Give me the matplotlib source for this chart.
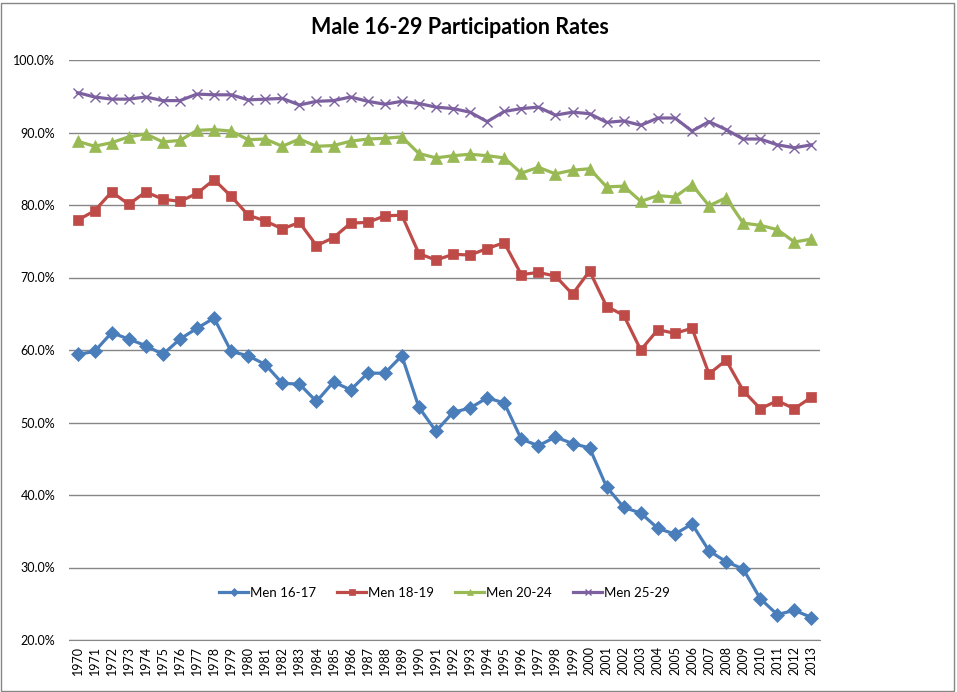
import matplotlib
matplotlib.use("Agg")
import matplotlib.pyplot as plt
from matplotlib.patches import Rectangle
from matplotlib.ticker import FuncFormatter

plt.rcParams['font.family'] = ['Lato', 'DejaVu Sans']

years = list(range(1970, 2014))

men_16_17 = [59.4, 59.8, 62.4, 61.5, 60.6, 59.4, 61.5, 63.0, 64.4, 59.8,
             59.2, 58.0, 55.4, 55.3, 52.9, 55.6, 54.5, 56.8, 56.8, 59.2,
             52.1, 48.8, 51.4, 52.0, 53.4, 52.7, 47.7, 46.8, 48.0, 47.1,
             46.5, 41.1, 38.3, 37.5, 35.4, 34.6, 36.0, 32.3, 30.8, 29.8,
             25.7, 23.5, 24.1, 23.1]
men_18_19 = [77.9, 79.2, 81.8, 80.1, 81.8, 80.8, 80.5, 81.6, 83.5, 81.2,
             78.6, 77.8, 76.7, 77.6, 74.4, 75.5, 77.5, 77.6, 78.5, 78.6,
             73.3, 72.4, 73.2, 73.1, 74.0, 74.8, 70.4, 70.7, 70.2, 67.7,
             70.9, 66.0, 64.8, 60.0, 62.8, 62.3, 63.0, 56.7, 58.6, 54.4,
             51.9, 53.0, 51.9, 53.5]
men_20_24 = [88.8, 88.1, 88.6, 89.4, 89.8, 88.7, 88.9, 90.3, 90.4, 90.2,
             89.0, 89.1, 88.1, 89.1, 88.1, 88.2, 88.8, 89.1, 89.2, 89.4,
             87.1, 86.5, 86.8, 87.0, 86.8, 86.5, 84.4, 85.2, 84.3, 84.8,
             85.0, 82.5, 82.6, 80.5, 81.3, 81.1, 82.8, 79.9, 81.0, 77.5,
             77.2, 76.6, 74.9, 75.3]
men_25_29 = [95.5, 94.9, 94.6, 94.6, 94.9, 94.4, 94.4, 95.3, 95.2, 95.2,
             94.5, 94.6, 94.7, 93.8, 94.3, 94.4, 94.9, 94.3, 93.9, 94.3,
             94.0, 93.5, 93.3, 92.8, 91.5, 92.9, 93.3, 93.5, 92.4, 92.8,
             92.6, 91.4, 91.6, 91.0, 92.0, 92.0, 90.2, 91.5, 90.4, 89.1,
             89.1, 88.3, 87.9, 88.3]

series = [
    ("Men 16-17", men_16_17, "#4A7EBB", "D", 7),
    ("Men 18-19", men_18_19, "#BE4B48", "s", 7.5),
    ("Men 20-24", men_20_24, "#98B954", "^", 8),
    ("Men 25-29", men_25_29, "#7D60A0", "x", 7),
]

fig = plt.figure(figsize=(9.57, 6.92), dpi=100)
ax = fig.add_axes([69 / 957, 1 - 640 / 692, (820 - 69) / 957, (640 - 60) / 692])

x = list(range(len(years)))
for name, vals, color, marker, ms in series:
    ax.plot(x, vals, color=color, lw=2.3, marker=marker, markersize=ms,
            markeredgecolor=color, markerfacecolor=color,
            markeredgewidth=1.0 if marker == "x" else 0.5, label=name)

ax.set_xlim(-0.5, len(years) - 0.5)
ax.set_ylim(20, 100)
ax.set_yticks(range(20, 101, 10))
ax.yaxis.set_major_formatter(FuncFormatter(lambda v, p: f"{v:.1f}%"))
ax.set_xticks(x)
ax.set_xticklabels([str(y) for y in years], rotation=90, fontsize=9)
ax.tick_params(axis='y', labelsize=9, length=0, pad=10)
ax.tick_params(axis='x', length=0, pad=4)
ax.grid(axis='y', color='#868686', lw=1)
ax.set_axisbelow(True)
for s in ['top', 'right', 'left']:
    ax.spines[s].set_visible(False)
ax.spines['bottom'].set_color('#868686')

ax.legend(loc='center', bbox_to_anchor=(0.5, 0.081), ncol=4, frameon=False,
          fontsize=9.5, handlelength=2.2, markerscale=0.6, columnspacing=1.6,
          handletextpad=0.15)

fig.text(460 / 957, 1 - 28 / 692, "Male 16-29 Participation Rates", ha='center',
         va='center', fontsize=15.5, fontweight='bold')

fig.patches.append(Rectangle((1 / 957, 1 / 692), 953 / 957, 688 / 692,
                             transform=fig.transFigure, fill=False,
                             edgecolor='#868686', lw=1))

fig.savefig("out.png", dpi=100)
